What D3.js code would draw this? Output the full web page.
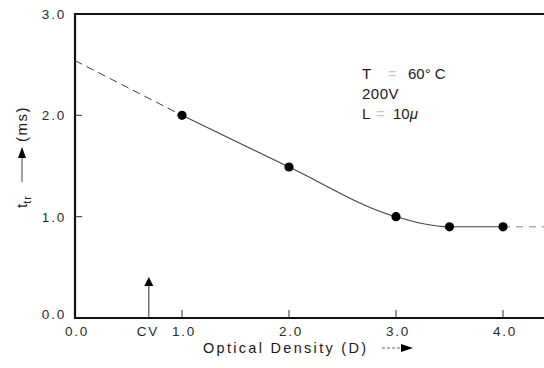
<!DOCTYPE html>
<html>
<head>
<meta charset="utf-8">
<script src="https://cdn.jsdelivr.net/npm/d3@7"></script>
<style>
  html, body { margin: 0; padding: 0; background: #fff; }
  svg { display: block; }
  text { font-family: "Liberation Sans", Arial, Helvetica, sans-serif; fill: #1a1a1a; }
</style>
</head>
<body>
<svg id="chart" width="544" height="368"></svg>
<script>
// ---- data ----
const xTicks = [0, 1, 2, 3, 4];
const xTickLabels = ["0.0", "1.0", "2.0", "3.0", "4.0"];
const yTicks = [0, 1, 2, 3];
const yTickLabels = ["0.0", "1.0", "2.0", "3.0"];
const measuredD = [1.0, 2.0, 3.0, 3.5, 4.0];
const measuredT = [2.0, 1.49, 1.0, 0.9, 0.9];
const extrapLeftD = [0.0, 1.0];
const extrapLeftT = [2.54, 2.0];
const extrapRightD = [4.0, 4.4];
const extrapRightT = [0.9, 0.9];
const cvValue = 0.69;
const cvLabel = "CV";
const annotation = ["T = 60° C", "200V", "L = 10μ"];

// ---- layout ----
const svg = d3.select("#chart");
const x0 = 75, xPerUnit = 107;
const x = d3.scaleLinear().domain([0, 4.6]).range([x0, x0 + 4.6 * xPerUnit]);
const y = d3.scaleLinear().domain([0, 3]).range([318, 14]);

const g = svg.append("g");
// frame: left, bottom, top
g.append("line").attr("x1", x(0)).attr("x2", x(0)).attr("y1", y(3) - 1).attr("y2", y(0) + 1)
  .attr("stroke", "#111").attr("stroke-width", 2.2);
g.append("line").attr("x1", x(0)).attr("x2", 560).attr("y1", y(0)).attr("y2", y(0))
  .attr("stroke", "#111").attr("stroke-width", 2.2);
g.append("line").attr("x1", x(0)).attr("x2", 560).attr("y1", y(3)).attr("y2", y(3))
  .attr("stroke", "#111").attr("stroke-width", 2.2);

// x ticks (inward)
g.selectAll(".xt").data(xTicks.slice(1)).enter().append("line")
  .attr("x1", d => x(d)).attr("x2", d => x(d))
  .attr("y1", y(0)).attr("y2", y(0) - 8)
  .attr("stroke", "#333").attr("stroke-width", 1);
g.selectAll(".xl").data(xTicks).enter().append("text")
  .attr("x", (d) => x(d) + 2).attr("y", 336)
  .attr("text-anchor", "middle").attr("font-size", 13.5).attr("letter-spacing", 1.8)
  .style("fill", "#2a2a2a")
  .text((d, i) => xTickLabels[i]);

// y ticks (inward)
g.selectAll(".yt").data(yTicks.slice(1, 3)).enter().append("line")
  .attr("x1", x(0)).attr("x2", x(0) + 7)
  .attr("y1", d => y(d)).attr("y2", d => y(d))
  .attr("stroke", "#333").attr("stroke-width", 1);
g.selectAll(".yl").data(yTicks).enter().append("text")
  .attr("x", 66).attr("y", d => y(d) + 5 - (d === 0 ? 4 : 0))
  .attr("text-anchor", "end").attr("font-size", 13.5).attr("letter-spacing", 1.8)
  .style("fill", "#2a2a2a")
  .text((d, i) => yTickLabels[i]);

// extrapolations (dashed)
const line = d3.line().x(d => x(d[0])).y(d => y(d[1]));
g.append("path").datum(extrapLeftD.map((d, i) => [d, extrapLeftT[i]]))
  .attr("d", line).attr("fill", "none").attr("stroke", "#444")
  .attr("stroke-width", 1).attr("stroke-dasharray", "8,5");
g.append("path").datum(extrapRightD.map((d, i) => [d, extrapRightT[i]]))
  .attr("d", line).attr("fill", "none").attr("stroke", "#888")
  .attr("stroke-width", 1).attr("stroke-dasharray", "7,6");

// fitted curve
const curve = d3.line().x(d => x(d[0])).y(d => y(d[1])).curve(d3.curveMonotoneX);
const pts = measuredD.map((d, i) => [d, measuredT[i]]);
g.append("path").datum(pts).attr("d", curve).attr("fill", "none")
  .attr("stroke", "#444").attr("stroke-width", 1.1);

// points
g.selectAll(".pt").data(pts).enter().append("circle")
  .attr("cx", d => x(d[0])).attr("cy", d => y(d[1])).attr("r", 4.6)
  .attr("fill", "#000");

// CV arrow
const cvx = x(cvValue);
g.append("line").attr("x1", cvx).attr("x2", cvx).attr("y1", y(0)).attr("y2", 285)
  .attr("stroke", "#333").attr("stroke-width", 1);
g.append("path").attr("d", `M${cvx},277 L${cvx - 4.5},286 L${cvx + 4.5},286 Z`).attr("fill", "#000");
g.append("text").attr("x", cvx - 1).attr("y", 336).attr("text-anchor", "middle")
  .attr("font-size", 13.5).attr("letter-spacing", 1.8).style("fill", "#2a2a2a").text(cvLabel);

// x axis title
g.append("text").attr("x", 203).attr("y", 353).attr("font-size", 14.5)
  .attr("letter-spacing", 2.3).text("Optical Density (D)");
g.append("line").attr("x1", 382).attr("x2", 402).attr("y1", 348).attr("y2", 348)
  .attr("stroke", "#666").attr("stroke-width", 1).attr("stroke-dasharray", "3,2");
g.append("path").attr("d", "M413,348 L401,344 L401,352 Z").attr("fill", "#000");

// y axis title (rotated)
const yg = g.append("g").attr("transform", "translate(27,0) rotate(-90)");
const yt = yg.append("text").attr("x", -208).attr("y", 0).attr("font-size", 15);
yt.append("tspan").text("t");
yt.append("tspan").attr("font-size", 11).attr("dy", 4).attr("letter-spacing", 1).text("tr");
yg.append("line").attr("x1", -182).attr("x2", -156).attr("y1", -5).attr("y2", -5)
  .attr("stroke", "#444").attr("stroke-width", 1);
yg.append("path").attr("d", "M-147,-5 L-158,-9 L-158,-1 Z").attr("fill", "#000");
yg.append("text").attr("x", -142).attr("y", 0).attr("font-size", 15)
  .attr("letter-spacing", 1.5).text("(ms)");

// annotation
const ann = g.append("g").attr("font-size", 15);
const a1 = ann.append("text").attr("x", 362).attr("y", 79);
a1.append("tspan").text("T");
a1.append("tspan").attr("x", 388).style("fill", "#c8c8c8").text("=");
a1.append("tspan").attr("x", 408).text("60° C");
ann.append("text").attr("x", 362).attr("y", 99).attr("letter-spacing", 0.5).text(annotation[1]);
const a3 = ann.append("text").attr("x", 362).attr("y", 119);
a3.append("tspan").text("L");
a3.append("tspan").attr("x", 376).style("fill", "#c8c8c8").text("=");
a3.append("tspan").attr("x", 393).text("10");
a3.append("tspan").style("font-style", "italic").text("μ");
</script>
</body>
</html>
